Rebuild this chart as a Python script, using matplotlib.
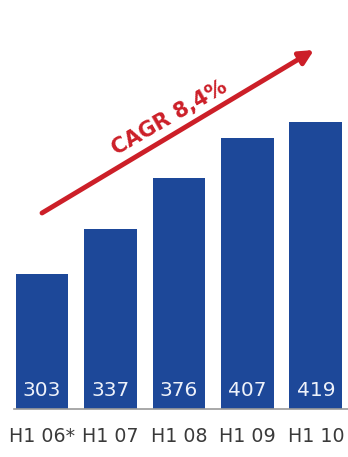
import matplotlib
matplotlib.use('Agg')
import matplotlib.pyplot as plt

# Ergebnis je Halbjahr
PERIODEN = ['H1 06*', 'H1 07', 'H1 08', 'H1 09', 'H1 10']
WERTE = [303, 337, 376, 407, 419]
CAGR_TEXT = 'CAGR 8,4%'

BLAU = '#1d4899'
ROT = '#cc1f28'

fig = plt.figure(figsize=(3.48, 4.57), dpi=100)
ax = fig.add_axes([14 / 348, 48 / 457, 334 / 348, 409 / 457])

x = range(len(WERTE))
ax.bar(x, WERTE, width=0.77, bottom=0, color=BLAU, zorder=2)

# Werte unten in den Balken
for xi, w in zip(x, WERTE):
    ax.annotate(f'{w}', (xi, 200), xytext=(0, 18), textcoords='offset pixels',
                ha='center', va='center', color='#eef2fa', fontsize=14.5,
                family='DejaVu Sans', zorder=3)

ax.set_xlim(-0.41, 4.47)
ax.set_ylim(200, 512)
ax.set_xticks(list(x))
ax.set_xticklabels(PERIODEN, fontsize=13.7, color='#3a3a3a', family='DejaVu Sans')
ax.tick_params(axis='x', length=0, pad=13)
ax.set_yticks([])
for s in ['top', 'right', 'left']:
    ax.spines[s].set_visible(False)
ax.spines['bottom'].set_color('#9a9a9a')
ax.spines['bottom'].set_linewidth(1.2)

# Wachstumspfeil mit CAGR
ax.annotate('', xy=(314, 407), xytext=(42, 244),
            xycoords='figure pixels', textcoords='figure pixels',
            arrowprops=dict(arrowstyle='-|>', color=ROT, lw=3.5,
                            mutation_scale=21, shrinkA=0, shrinkB=0))
fig.text(170 / 348, 339 / 457, CAGR_TEXT, color=ROT, fontsize=15,
         fontweight='bold', rotation=30, rotation_mode='anchor',
         ha='center', va='center', family='DejaVu Sans')

fig.savefig('out.png', dpi=100, facecolor='white')
